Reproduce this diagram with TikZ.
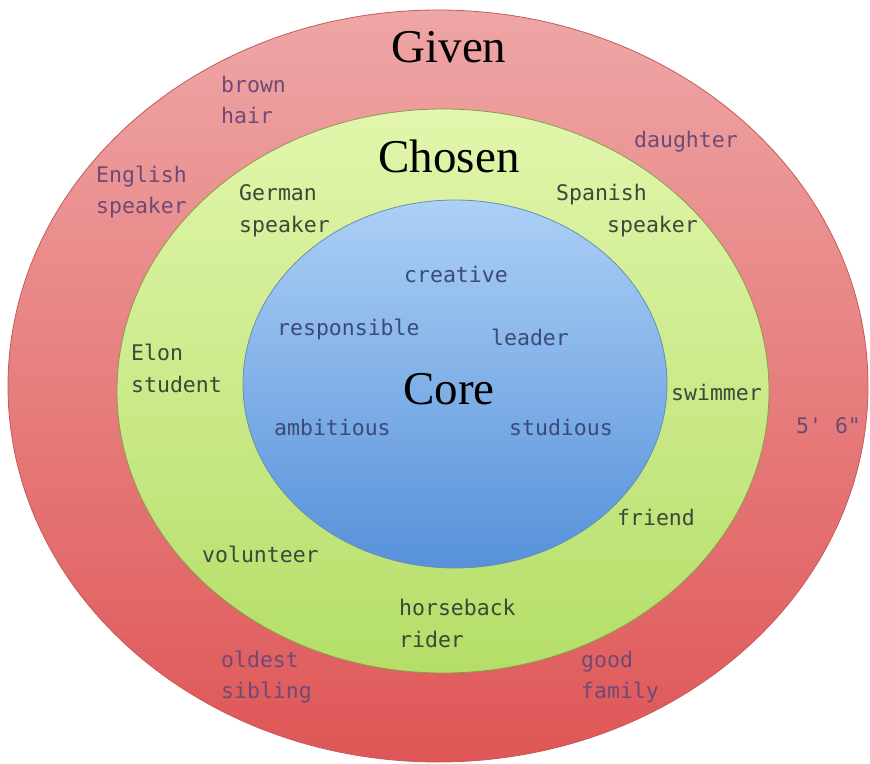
\documentclass[tikz,border=0pt]{standalone}
\usepackage{fontspec}
\setmainfont{Liberation Serif}
\newfontfamily\labfont{DejaVu Sans Mono}[Ligatures=TeXOff]
\definecolor{redtop}{HTML}{EFA6A6}
\definecolor{redbot}{HTML}{DF5656}
\definecolor{redline}{HTML}{C45A5A}
\definecolor{greentop}{HTML}{E2F6AC}
\definecolor{greenbot}{HTML}{B4DE68}
\definecolor{greenline}{HTML}{8C9A4C}
\definecolor{bluetop}{HTML}{ACD0F6}
\definecolor{bluebot}{HTML}{5691DA}
\definecolor{blueline}{HTML}{6A8FAE}
\definecolor{giventxt}{HTML}{6E4A78}
\definecolor{chosentxt}{HTML}{3C4838}
\definecolor{coretxt}{HTML}{3C4A78}
\tikzset{
  lab/.style={inner sep=0pt, anchor=base west, font=\labfont\fontsize{21.5}{24}\selectfont},
  glab/.style={lab, text=giventxt},
  clab/.style={lab, text=chosentxt},
  klab/.style={lab, text=coretxt},
  title/.style={inner sep=0pt, anchor=base, font=\fontsize{47}{50}\selectfont, text=black}
}
\begin{document}
\begin{tikzpicture}[x=1pt,y=-1pt]
\useasboundingbox (0,0) rectangle (870,763);
\shade[top color=redtop, bottom color=redbot, draw=redline, line width=0.8pt]
  (438,386) ellipse [x radius=430pt, y radius=376pt];
\shade[top color=greentop, bottom color=greenbot, draw=greenline, line width=0.8pt]
  (443,391) ellipse [x radius=326pt, y radius=282pt];
\shade[top color=bluetop, bottom color=bluebot, draw=blueline, line width=0.8pt]
  (455,384) ellipse [x radius=212pt, y radius=184pt];

\node[title] (given) at (449,62) {Given};
\node[title] (chosen) at (449,172) {Chosen};
\node[title] (core) at (449,404) {Core};

% given labels
\node[glab] (brown) at (221,92) {brown};
\node[glab] (hair) at (221,123) {hair};
\node[glab] (english) at (96,182) {English};
\node[glab] (englishsp) at (96,213) {speaker};
\node[glab] (daughter) at (634,147) {daughter};
\node[glab] (height) at (796,433) {5' 6"};
\node[glab] (oldest) at (221,667) {oldest};
\node[glab] (sibling) at (221,698) {sibling};
\node[glab] (good) at (581,667) {good};
\node[glab] (family) at (581,698) {family};

% chosen labels
\node[clab] (german) at (239,200) {German};
\node[clab] (germansp) at (239,232) {speaker};
\node[clab] (spanish) at (556,200) {Spanish};
\node[clab] (spanishsp) at (607,232) {speaker};
\node[clab] (elon) at (131,360) {Elon};
\node[clab] (student) at (131,392) {student};
\node[clab] (swimmer) at (671,400) {swimmer};
\node[clab] (friend) at (617,525) {friend};
\node[clab] (volunteer) at (202,562) {volunteer};
\node[clab] (horseback) at (399,615) {horseback};
\node[clab] (rider) at (399,647) {rider};

% core labels
\node[klab] (creative) at (404,282) {creative};
\node[klab] (responsible) at (277,335) {responsible};
\node[klab] (leader) at (491,345) {leader};
\node[klab] (ambitious) at (274,435) {ambitious};
\node[klab] (studious) at (509,435) {studious};
\end{tikzpicture}
\end{document}
